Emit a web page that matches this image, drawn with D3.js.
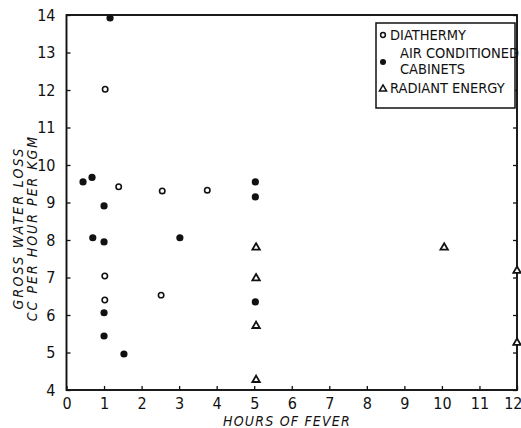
<!DOCTYPE html>
<html>
<head>
<meta charset="utf-8">
<script src="https://cdn.jsdelivr.net/npm/d3@7"></script>
<style>
  html, body { margin: 0; padding: 0; background: #fff; }
  svg text { font-family: "DejaVu Sans Condensed", "Liberation Sans Narrow", sans-serif; fill: #111; }
</style>
</head>
<body>
<svg id="chart" width="521" height="428"></svg>
<script>
// Gross water loss (cc per hour per kgm) against hours of fever, by heating method
const diathermyHours  = [1.03, 1.39, 2.55, 3.75, 1.02, 1.02, 2.52];
const diathermyLoss   = [12.02, 9.42, 9.31, 9.33, 7.04, 6.40, 6.53];

const cabinetHours = [1.16, 0.44, 0.68, 1.00, 0.70, 1.00, 1.00, 1.00, 1.53, 3.02, 5.03, 5.03, 5.03];
const cabinetLoss  = [13.92, 9.55, 9.67, 8.91, 8.06, 7.95, 6.06, 5.44, 4.96, 8.06, 6.35, 9.55, 9.15];

const radiantHours = [5.05, 5.05, 5.05, 5.05, 10.06, 12.0, 12.0];
const radiantLoss  = [7.80, 6.98, 5.71, 4.27, 7.80, 7.18, 5.26];

const xTicks = [0, 1, 2, 3, 4, 5, 6, 7, 8, 9, 10, 11, 12];
const yTicks = [4, 5, 6, 7, 8, 9, 10, 11, 12, 13, 14];

const legendLabels = [["DIATHERMY"], ["AIR CONDITIONED", "CABINETS"], ["RADIANT ENERGY"]];

const svg = d3.select("#chart");
const margin = { left: 66.5, right: 4, top: 15, bottom: 38 };
const W = 521, H = 428;

const x = d3.scaleLinear().domain([0, 12]).range([margin.left, W - margin.right]);
const y = d3.scaleLinear().domain([4, 14]).range([H - margin.bottom, margin.top]);

const ink = "#111";

// frame
svg.append("rect")
  .attr("x", x(0)).attr("y", y(14))
  .attr("width", x(12) - x(0)).attr("height", y(4) - y(14))
  .attr("fill", "none").attr("stroke", ink).attr("stroke-width", 1.9);

// bottom axis: ticks pointing inward
const xAxis = svg.append("g")
  .attr("transform", `translate(0,${y(4)})`)
  .call(d3.axisBottom(x).tickValues(xTicks).tickSize(-4).tickPadding(8).tickFormat(d3.format("d")));
xAxis.select(".domain").remove();
xAxis.selectAll("line").attr("stroke", ink).attr("stroke-width", 1.3);
xAxis.selectAll("text").attr("font-size", 16).attr("dy", "0.7em");
xAxis.selectAll(".tick").filter(d => d === 12).select("text")
  .attr("text-anchor", "end").attr("x", 5);

// left axis
const yAxis = svg.append("g")
  .attr("transform", `translate(${x(0)},0)`)
  .call(d3.axisLeft(y).tickValues(yTicks).tickSize(-4).tickPadding(11).tickFormat(d3.format("d")));
yAxis.select(".domain").remove();
yAxis.selectAll("line").attr("stroke", ink).attr("stroke-width", 1.3);
yAxis.selectAll("text").attr("font-size", 16);

// right side ticks
const yRight = svg.append("g")
  .attr("transform", `translate(${x(12)},0)`)
  .call(d3.axisRight(y).tickValues(yTicks).tickSize(-4).tickFormat(""));
yRight.select(".domain").remove();
yRight.selectAll("line").attr("stroke", ink).attr("stroke-width", 1.3);

// axis titles
svg.append("text")
  .attr("x", 287).attr("y", 426)
  .attr("text-anchor", "middle").attr("font-size", 14).attr("font-style", "italic")
  .attr("letter-spacing", 1.2)
  .text("HOURS  OF  FEVER");

const yTitle = svg.append("g").attr("transform", "translate(0,228) rotate(-90)");
yTitle.append("text").attr("x", 0).attr("y", 23)
  .attr("text-anchor", "middle").attr("font-size", 14).attr("font-style", "italic")
  .attr("letter-spacing", 2.2)
  .text("GROSS    WATER    LOSS");
yTitle.append("text").attr("x", 0).attr("y", 37)
  .attr("text-anchor", "middle").attr("font-size", 14).attr("font-style", "italic")
  .attr("letter-spacing", 2)
  .text("CC  PER   HOUR   PER   KGM");

// markers
const tri = d3.symbol().type(d3.symbolTriangle).size(24);

const plot = svg.append("g");

plot.selectAll("circle.dia")
  .data(d3.zip(diathermyHours, diathermyLoss))
  .join("circle").attr("class", "dia")
  .attr("cx", d => x(d[0])).attr("cy", d => y(d[1])).attr("r", 2.7)
  .attr("fill", "#fff").attr("stroke", ink).attr("stroke-width", 1.6);

plot.selectAll("circle.cab")
  .data(d3.zip(cabinetHours, cabinetLoss))
  .join("circle").attr("class", "cab")
  .attr("cx", d => x(d[0])).attr("cy", d => y(d[1])).attr("r", 3.6)
  .attr("fill", ink);

plot.selectAll("path.rad")
  .data(d3.zip(radiantHours, radiantLoss))
  .join("path").attr("class", "rad")
  .attr("d", tri)
  .attr("transform", d => `translate(${x(d[0])},${y(d[1])})`)
  .attr("fill", "#fff").attr("stroke", ink).attr("stroke-width", 1.8);

// legend
const lg = svg.append("g").attr("transform", "translate(376,23)");
lg.append("rect").attr("x", 0).attr("y", 0).attr("width", 139).attr("height", 85)
  .attr("fill", "#fff").attr("stroke", ink).attr("stroke-width", 1.5);

lg.append("circle").attr("cx", 7).attr("cy", 12).attr("r", 2.4)
  .attr("fill", "#fff").attr("stroke", ink).attr("stroke-width", 1.5);
lg.append("circle").attr("cx", 7).attr("cy", 39).attr("r", 3).attr("fill", ink);
lg.append("path").attr("d", d3.symbol().type(d3.symbolTriangle).size(22))
  .attr("transform", "translate(7,66)")
  .attr("fill", "#fff").attr("stroke", ink).attr("stroke-width", 1.5);

const legendRows = [
  { x: 14, ys: [17] },
  { x: 24, ys: [35, 51] },
  { x: 14, ys: [70] }
];
legendLabels.forEach((lines, i) => {
  const t = lg.append("text").attr("font-size", 14.5);
  lines.forEach((s, j) => {
    t.append("tspan").attr("x", legendRows[i].x).attr("y", legendRows[i].ys[j]).text(s);
  });
});
</script>
</body>
</html>
